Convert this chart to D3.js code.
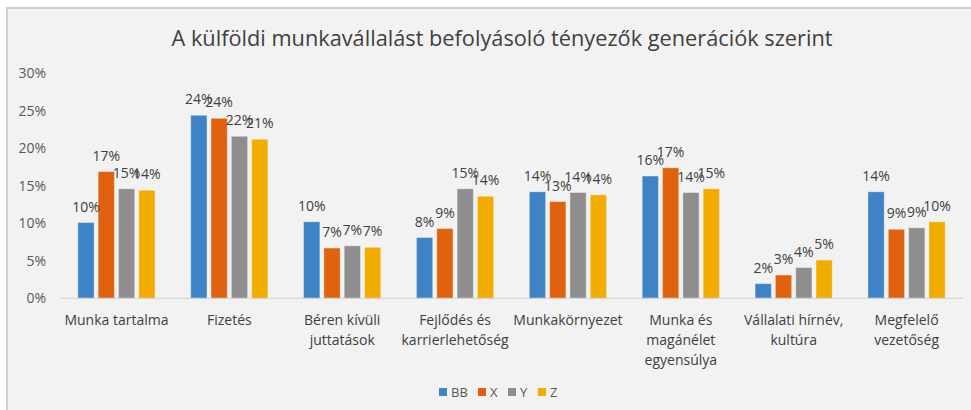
<!DOCTYPE html>
<html>
<head>
<meta charset="utf-8">
<script src="https://cdn.jsdelivr.net/npm/d3@7"></script>
<style>
  body { margin: 0; background: #fff; }
  text { font-family: "Open Sans", sans-serif; }
  .tick line { display: none; }
</style>
</head>
<body>
<div id="chart"></div>
<script>
// categories and series
const categories = ["Munka tartalma", "Fizetés", "Béren kívüli\njuttatások", "Fejlődés és\nkarrierlehetőség",
  "Munkakörnyezet", "Munka és\nmagánélet\negyensúlya", "Vállalati hírnév,\nkultúra", "Megfelelő\nvezetőség"];
const series = ["BB", "X", "Y", "Z"];
const BB = [0.101, 0.244, 0.102, 0.081, 0.142, 0.163, 0.0195, 0.142];
const X  = [0.169, 0.240, 0.067, 0.093, 0.129, 0.174, 0.031, 0.092];
const Y  = [0.146, 0.216, 0.070, 0.146, 0.141, 0.141, 0.041, 0.094];
const Z  = [0.144, 0.212, 0.068, 0.136, 0.138, 0.146, 0.051, 0.102];
const yTicks = [0, 0.05, 0.10, 0.15, 0.20, 0.25, 0.30];
const colors = ["#3d83c5", "#e0620f", "#8e8e8e", "#f2ac00"];

const values = [BB, X, Y, Z];
const data = categories.map((c, i) => ({ cat: c, vals: series.map((s, j) => ({ key: s, value: values[j][i] })) }));

const W = 971, H = 410;
const plot = { left: 60, right: 963, top: 73.3, bottom: 298.3 };

const svg = d3.select("#chart").append("svg")
  .attr("width", W).attr("height", H);

// panel background
svg.append("rect")
  .attr("x", 7).attr("y", 8).attr("width", W).attr("height", H)
  .attr("fill", "#f2f2f2").attr("stroke", "#cfcfcf").attr("stroke-width", 2);

// title
svg.append("text")
  .attr("x", 502).attr("y", 45.5)
  .attr("text-anchor", "middle")
  .attr("font-size", 21)
  .attr("fill", "#404040")
  .attr("textLength", 661).attr("lengthAdjust", "spacingAndGlyphs")
  .text("A külföldi munkavállalást befolyásoló tényezők generációk szerint");

const x0 = d3.scaleBand().domain(categories).range([plot.left, plot.right]).padding(0);
const x1 = d3.scaleBand().domain(series).range([-38.6, 38.6]).paddingInner(0.2);
const y = d3.scaleLinear().domain([0, 0.3]).range([plot.bottom, plot.top]);
const color = d3.scaleOrdinal().domain(series).range(colors);

// grid lines
svg.append("g")
  .attr("transform", "translate(" + plot.left + ",0)")
  .call(d3.axisLeft(y).tickValues(yTicks).tickSize(-(plot.right - plot.left)).tickFormat(""))
  .call(g => g.select(".domain").remove())
  .call(g => g.selectAll(".tick line").style("display", null).attr("stroke", "#d9d9d9"));

// y axis labels
svg.append("g")
  .attr("transform", "translate(" + plot.left + ",0)")
  .call(d3.axisLeft(y).tickValues(yTicks).tickSize(0).tickPadding(14).tickFormat(d3.format(".0%")))
  .call(g => g.select(".domain").remove())
  .call(g => g.selectAll("text").attr("font-size", 14).attr("fill", "#595959").attr("font-family", "Open Sans"));

// bars
const groups = svg.append("g").selectAll("g")
  .data(data).enter().append("g")
  .attr("transform", d => "translate(" + (x0(d.cat) + x0.bandwidth() / 2) + ",0)");

groups.selectAll("rect")
  .data(d => d.vals).enter().append("rect")
  .attr("x", d => x1(d.key))
  .attr("y", d => y(d.value))
  .attr("width", x1.bandwidth())
  .attr("height", d => y(0) - y(d.value))
  .attr("fill", d => color(d.key))
  .attr("stroke", "#ffffff").attr("stroke-opacity", 0.35).attr("stroke-width", 1);

groups.selectAll("text.lbl")
  .data(d => d.vals).enter().append("text")
  .attr("class", "lbl")
  .attr("x", d => x1(d.key) + x1.bandwidth() / 2)
  .attr("y", d => y(d.value) - 11)
  .attr("text-anchor", "middle")
  .attr("font-size", 14)
  .attr("fill", "#404040")
  .text(d => d3.format(".0%")(d.value));

// x axis line
svg.append("line")
  .attr("x1", plot.left).attr("x2", plot.right)
  .attr("y1", y(0)).attr("y2", y(0))
  .attr("stroke", "#d0d0d0");

// category labels
const xAxis = svg.append("g")
  .attr("transform", "translate(0," + y(0) + ")")
  .call(d3.axisBottom(x0).tickSize(0).tickFormat(""))
  .call(g => g.select(".domain").remove());

xAxis.selectAll(".tick").append("text")
  .attr("text-anchor", "middle")
  .attr("font-size", 14)
  .attr("fill", "#404040")
  .selectAll("tspan")
  .data(d => d.split("\n")).enter().append("tspan")
  .attr("x", 0)
  .attr("y", (d, i) => 27 + i * 20)
  .text(d => d);

// legend
const legX = [439, 478, 508, 538];
const legend = svg.append("g").selectAll("g")
  .data(series).enter().append("g")
  .attr("transform", (d, i) => "translate(" + legX[i] + ",392)");
legend.append("rect")
  .attr("x", 0).attr("y", -4).attr("width", 8).attr("height", 8)
  .attr("fill", color);
legend.append("text")
  .attr("x", 12).attr("y", 5)
  .attr("font-size", 13)
  .attr("fill", "#595959")
  .text(d => d);
</script>
</body>
</html>
